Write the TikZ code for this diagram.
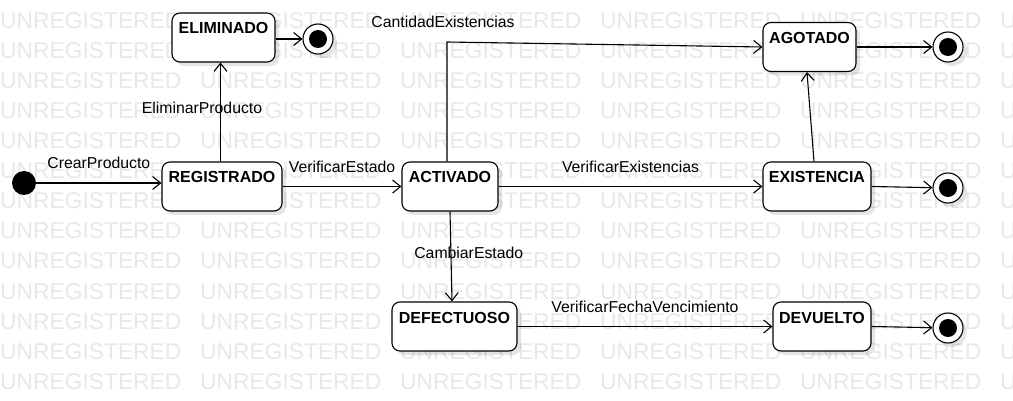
\documentclass[tikz,border=0pt]{standalone}
\usepackage{fontspec}
\setmainfont{Liberation Sans}
\usetikzlibrary{arrows.meta,shadows}
\begin{document}
\begin{tikzpicture}[x=1pt,y=-1pt,
  shadowed/.style={drop shadow={shadow xshift=4pt,shadow yshift=-4pt,fill=black,opacity=.10}},
  statebox/.style={draw,line width=1.1pt,rounded corners=8pt,fill=white,shadowed,
    font=\fontsize{16}{19}\selectfont\bfseries,inner xsep=0pt,inner ysep=9.5pt,
    text height=11.5pt,text depth=18.5pt,minimum height=49pt},
  initst/.style={circle,fill=black,minimum size=24pt,inner sep=0pt},
  finalst/.style={circle,draw,line width=1.1pt,fill=white,minimum size=30pt,inner sep=0pt,shadowed,
    path picture={\fill[black] (path picture bounding box.center) circle (9pt);}},
  conn/.style={line width=1.1pt,-{Straight Barb[length=8pt,width=13pt,line width=1.1pt]}},
  lbl/.style={font=\fontsize{15.8}{18}\selectfont,inner sep=0pt,anchor=base},
  wm/.style={font=\fontsize{22.8}{26}\selectfont,text=black!9,inner sep=0pt,anchor=base west}]
\useasboundingbox (0,0) rectangle (1013,401);
\fill[white] (0,0) rectangle (1013,401);
\begin{scope}
  \clip (0,0) rectangle (1013,401);
  \foreach \r in {0,...,12}{
    \foreach \c in {0,...,5}{
      \node[wm] (wm-\r-\c) at (200*\c,29+30*\r) {UNREGISTERED};
    }
  }
\end{scope}
% states
\node[initst] (init) at (24,183) {};
\node[statebox,minimum width=120pt] (reg) at (222,186.5) {REGISTRADO};
\node[statebox,minimum width=103pt] (elim) at (223.5,37.5) {ELIMINADO};
\node[statebox,minimum width=96pt] (act) at (450,186.5) {ACTIVADO};
\node[statebox,minimum width=93pt] (agot) at (809.5,47) {AGOTADO};
\node[statebox,minimum width=108pt] (exist) at (817,186.5) {EXISTENCIA};
\node[statebox,minimum width=125pt] (def) at (454.5,326.5) {DEFECTUOSO};
\node[statebox,minimum width=98pt] (dev) at (822,326.5) {DEVUELTO};
\node[finalst] (fin1) at (318,39) {};
\node[finalst] (fin2) at (948,47) {};
\node[finalst] (fin3) at (948,188) {};
\node[finalst] (fin4) at (948,328) {};
\coordinate (c1) at (447,42);
% transitions
\draw[conn] (init) -- node[lbl,yshift=14pt] (lCrear) {CrearProducto} (init -| reg.west);
\draw[conn] ([xshift=-1.5pt]reg.north) -- node[lbl,pos=.487,xshift=-18.5pt] (lElim) {EliminarProducto} ([xshift=-1.5pt]reg.north |- elim.south);
\draw[conn] (elim.east |- fin1) -- (fin1);
\draw[conn] (reg.east) -- node[lbl,yshift=13.5pt] (lVE) {VerificarEstado} (act.west);
\draw[conn] ([xshift=-3pt]act.north) -- (c1) -- (agot.west);
\node[lbl,xshift=-4pt,yshift=14.3pt] (lCant) at (c1) {CantidadExistencias};
\draw[conn] (act.east) -- node[lbl,yshift=13.5pt] (lVEx) {VerificarExistencias} (exist.west);
\draw[conn] ([xshift=-3pt]exist.north) -- ([xshift=-2.5pt]agot.south);
\draw[conn] (agot.east) -- (fin2);
\draw[conn] (exist.east) -- (fin3);
\draw[conn] (act.south) -- node[lbl,pos=.527,xshift=17.7pt] (lCamb) {CambiarEstado} ([xshift=-2.5pt]def.north);
\draw[conn] (def.east) -- node[lbl,yshift=14pt] (lVF) {VerificarFechaVencimiento} (dev.west);
\draw[conn] (dev.east) -- (fin4);
\end{tikzpicture}
\end{document}
